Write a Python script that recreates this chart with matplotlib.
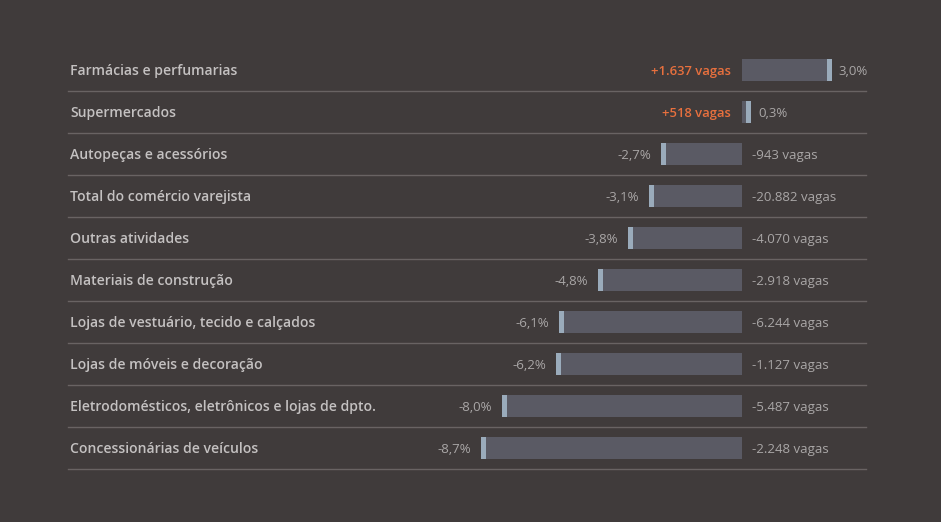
import matplotlib
matplotlib.use("Agg")
import matplotlib.pyplot as plt

# -- data ---------------------------------------------------------------
categories = [
    "Farmácias e perfumarias",
    "Supermercados",
    "Autopeças e acessórios",
    "Total do comércio varejista",
    "Outras atividades",
    "Materiais de construção",
    "Lojas de vestuário, tecido e calçados",
    "Lojas de móveis e decoração",
    "Eletrodomésticos, eletrônicos e lojas de dpto.",
    "Concessionárias de veículos",
]
pct = [3.0, 0.3, -2.7, -3.1, -3.8, -4.8, -6.1, -6.2, -8.0, -8.7]
vagas = [1637, 518, -943, -20882, -4070, -2918, -6244, -1127, -5487, -2248]

# -- style --------------------------------------------------------------
BG = "#403b3b"
BAR = "#5a5a64"
CAP = "#9aabbb"
LABEL = "#c4c1c1"
VALUE = "#a9a6a6"
ORANGE = "#e8703e"
RULE = "#696363"
CAP_W = 0.17

plt.rcParams["font.family"] = ["Open Sans", "DejaVu Sans"]

fig = plt.figure(figsize=(9.41, 5.22), dpi=100, facecolor=BG)
ax = fig.add_axes([0, 0, 1, 1])
ax.set_facecolor(BG)
ax.set_xlim(-742 / 30, (941 - 742) / 30)
ax.set_ylim((522 - 70) / 42, -70 / 42)
ax.axis("off")

ys = list(range(len(categories)))


def fmt_pct(p):
    return f"{p:.1f}".replace(".", ",") + "%"


def fmt_vagas(v):
    s = f"{v:+,}" if v > 0 else f"{v:,}"
    return s.replace(",", ".") + " vagas"


ax.barh(ys, pct, height=0.52, color=BAR)
caps = [p - CAP_W if p > 0 else p for p in pct]
ax.barh(ys, [CAP_W] * len(pct), left=caps, height=0.52, color=CAP)

lx = 70 / 941
for y, cat, p, v in zip(ys, categories, pct, vagas):
    ax.text(lx, y - 0.02, cat, transform=ax.get_yaxis_transform(), ha="left",
            va="center_baseline", fontsize=10.1, fontweight=600, color=LABEL)
    if p > 0:
        ax.text(-0.37, y, fmt_vagas(v), ha="right", va="center_baseline",
                fontsize=9.4, fontweight=600, color=ORANGE)
        ax.text(p + 0.23, y, fmt_pct(p), ha="left", va="center_baseline",
                fontsize=9.5, color=VALUE)
    else:
        ax.text(p - 0.33, y, fmt_pct(p), ha="right", va="center_baseline",
                fontsize=9.5, color=VALUE)
        ax.text(0.33, y, fmt_vagas(v), ha="left", va="center_baseline",
                fontsize=9.5, color=VALUE)
    ax.axhline(y + 0.5, xmin=68 / 941, xmax=866 / 941, color=RULE, lw=1)

fig.savefig("out.png", dpi=100, facecolor=BG)
